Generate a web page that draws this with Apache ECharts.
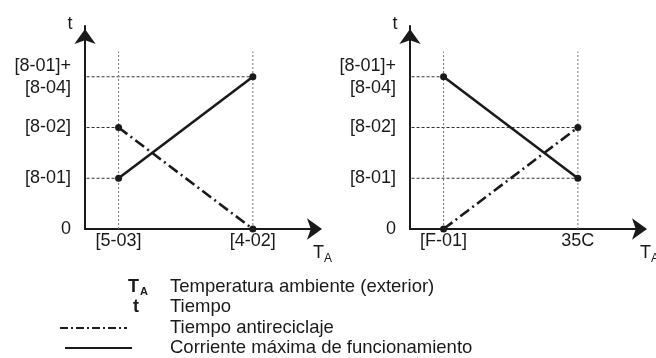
<!DOCTYPE html>
<html>
<head>
<meta charset="utf-8">
<script src="https://cdn.jsdelivr.net/npm/echarts@6/dist/echarts.min.js"></script>
<style>
  html, body { margin: 0; padding: 0; background: #fff; }
  #chart { width: 656px; height: 358px; }
</style>
</head>
<body>
<div id="chart"></div>
<script>
// Tick positions and their labels (abstract positions on each axis)
const xTicks = [1, 5];
const xLabelsLeft = ['[5-03]', '[4-02]'];
const xLabelsRight = ['[F-01]', '35C'];
const yTicks = [0, 1, 2, 3];
const yLabels = ['0', '[8-01]', '[8-02]', '[8-01]+\n[8-04]'];

// Curves: [x, t]
const leftCurrent = [[1, 1], [5, 3]];      // Corriente máxima de funcionamiento
const leftAntiRecycle = [[1, 2], [5, 0]];  // Tiempo antireciclaje
const rightCurrent = [[1, 3], [5, 1]];
const rightAntiRecycle = [[1, 0], [5, 2]];

// Reference guides: [level, x where the guide stops]
const leftLevelGuides = [[1, 1], [2, 1], [3, 5]];
const rightLevelGuides = [[3, 1], [2, 5], [1, 5]];
const guideStartX = -0.4;
const verticalGuideTop = 3.5;

const FONT = "'Liberation Sans', Arial, sans-serif";
const INK = '#1a1a1a';

function tickFormatter(ticks, labels) {
  return function (v) {
    const i = ticks.indexOf(v);
    return i >= 0 ? labels[i] : '';
  };
}

function xAxisFor(gridIndex, labels) {
  return {
    type: 'value', gridIndex, min: 0, max: 7, interval: 1,
    axisLine: { show: true, onZero: false, symbol: ['none', 'arrow'], symbolSize: [16, 15], symbolOffset: [0, 2],
      lineStyle: { color: INK, width: 2 } },
    axisTick: { show: false },
    splitLine: { show: false },
    axisLabel: { formatter: tickFormatter(xTicks, labels), color: INK, fontSize: 18, fontFamily: FONT, margin: 3,
      showMinLabel: true, showMaxLabel: true }
  };
}

function yAxisFor(gridIndex) {
  return {
    type: 'value', gridIndex, min: 0, max: 4, interval: 1,
    axisLine: { show: true, onZero: false, symbol: ['none', 'arrow'], symbolSize: [16, 15], symbolOffset: [0, -3],
      lineStyle: { color: INK, width: 2 } },
    axisTick: { show: false },
    splitLine: { show: false },
    axisLabel: { formatter: tickFormatter(yTicks, yLabels), color: INK, fontSize: 18, lineHeight: 22,
      fontFamily: FONT, margin: 14 }
  };
}

function guideSeries(idx, levelGuides, axisStub) {
  const out = [];
  levelGuides.forEach(function (g) {
    out.push({
      type: 'line', xAxisIndex: idx, yAxisIndex: idx, clip: false, silent: true, symbol: 'none', z: 1,
      data: [[guideStartX, g[0]], [g[1], g[0]]],
      lineStyle: { color: '#333', width: 1, type: [3, 2] }
    });
  });
  xTicks.forEach(function (x) {
    out.push({
      type: 'line', xAxisIndex: idx, yAxisIndex: idx, clip: false, silent: true, symbol: 'none', z: 1,
      data: [[x, 0], [x, verticalGuideTop]],
      lineStyle: { color: '#777', width: 1, type: [2, 2] }
    });
  });
  out.push({
    type: 'line', xAxisIndex: idx, yAxisIndex: idx, clip: false, silent: true, symbol: 'none', z: 1,
    data: [[axisStub, 0], [0, 0]],
    lineStyle: { color: INK, width: 2 }
  });
  return out;
}

function curve(idx, data, dashed) {
  return {
    type: 'line', xAxisIndex: idx, yAxisIndex: idx, clip: false, z: 3,
    data: data, symbol: 'circle', symbolSize: 7, showAllSymbol: true,
    itemStyle: { color: INK },
    lineStyle: { color: INK, width: 2.6, type: dashed ? [11, 4, 2, 4] : 'solid' }
  };
}

function label(text, x, y, size, bold, align) {
  return { type: 'text', x: x, y: y, silent: true,
    style: { text: text, fill: INK, font: (bold ? 'bold ' : '') + size + 'px ' + FONT,
      align: align || 'left', verticalAlign: 'middle' } };
}

const legendRows = [287, 307, 328, 348];
const legendText = ['Temperatura ambiente (exterior)', 'Tiempo', 'Tiempo antireciclaje',
  'Corriente máxima de funcionamiento'];

const graphics = [
  // axis names
  label('t', 70, 24, 18, false, 'center'),
  label('T', 313, 253, 18, false),
  label('A', 324, 259, 12, false),
  label('t', 395, 24, 18, false, 'center'),
  label('T', 640, 253, 18, false),
  label('A', 651, 259, 12, false),
  // legend keys
  label('T', 128, legendRows[0], 18, true),
  label('A', 140, legendRows[0] + 5, 11, true),
  label('t', 136, legendRows[1], 18, true, 'center'),
  { type: 'line', silent: true, shape: { x1: 60, y1: legendRows[2], x2: 127, y2: legendRows[2] },
    style: { stroke: INK, lineWidth: 2, lineDash: [8, 3, 2, 3] } },
  { type: 'line', silent: true, shape: { x1: 65, y1: legendRows[3], x2: 132, y2: legendRows[3] },
    style: { stroke: INK, lineWidth: 2 } }
];
legendText.forEach(function (t, i) { graphics.push(label(t, 170, legendRows[i], 18.5, false)); });

const chart = echarts.init(document.getElementById('chart'), null, { renderer: 'canvas' });
chart.setOption({
  animation: false,
  backgroundColor: '#fff',
  grid: [
    { left: 85, top: 26, width: 235, height: 203 },
    { left: 410, top: 26, width: 235, height: 203 }
  ],
  xAxis: [xAxisFor(0, xLabelsLeft), xAxisFor(1, xLabelsRight)],
  yAxis: [yAxisFor(0), yAxisFor(1)],
  series: [].concat(
    guideSeries(0, leftLevelGuides, -0.15),
    guideSeries(1, rightLevelGuides, -0.06),
    [curve(0, leftAntiRecycle, true), curve(0, leftCurrent, false),
     curve(1, rightAntiRecycle, true), curve(1, rightCurrent, false)]
  ),
  graphic: graphics
});
</script>
</body>
</html>
